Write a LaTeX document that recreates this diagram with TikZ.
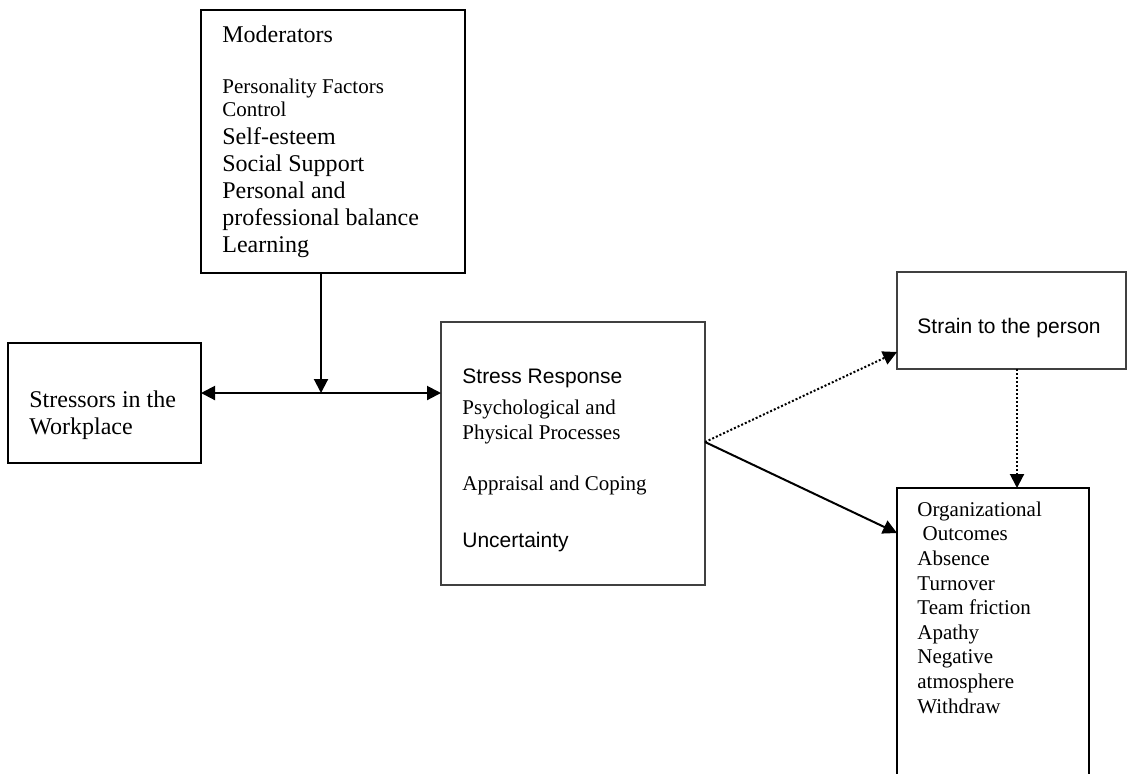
\documentclass[tikz,border=0pt]{standalone}
\usepackage{fontspec}
\setmainfont{Liberation Serif}
\setsansfont{Liberation Sans}
\usetikzlibrary{calc}
\usetikzlibrary{arrows.meta}

\newcommand{\lgserif}{\fontsize{12}{13.5}\selectfont}
\newcommand{\smserif}{\fontsize{10.5}{11.5}\selectfont}
\newcommand{\smsans}{\sffamily\fontsize{10.5}{12}\selectfont}

\tikzset{
  heavybox/.style={draw, line width=1pt, inner sep=0pt, outer sep=0pt},
  lightbox/.style={draw=black!75, line width=0.6pt, inner sep=0pt, outer sep=0pt},
  txt/.style={inner sep=0pt, anchor=base west, align=left},
  conn/.style={line width=1pt},
}

\begin{document}
\begin{tikzpicture}[x=0.5pt, y=-0.5pt, >={Triangle[length=7pt,width=7pt]}]
    \useasboundingbox (0,0) rectangle (1127,773);
    % boxes
    \node[heavybox, minimum width=132pt, minimum height=131.5pt] (modbox) at (333, 141.5) {};
    \node[heavybox, minimum width=96.5pt, minimum height=60pt] (wrkbox) at (104.5, 403) {};
    \node[lightbox, minimum width=132pt, minimum height=131.5pt] (respbox) at (573, 453.5) {};
    \node[lightbox, minimum width=114.5pt, minimum height=48.5pt] (strainbox) at (1011.5, 320.5) {};
    \node[heavybox, minimum width=96pt, minimum height=160pt] (orgbox) at (993, 648) {};
    % texts (base = last line)
    \node[txt, font=\lgserif] (modtitle) at (222, 42) {Moderators};
    \node[txt, font=\smserif] (modsmall) at (222, 116) {Personality Factors\\Control};
    \node[txt, font=\lgserif] (modlist) at (222, 252) {Self-esteem\\Social Support\\Personal and\\professional balance\\Learning};
    \node[txt, font=\lgserif] (wrktxt) at (29, 434) {Stressors in the\\Workplace};
    \node[txt, font=\smsans] (resptitle) at (462, 383) {Stress Response};
    \node[txt, font={\fontsize{10.5}{12.15}\selectfont}] (respproc) at (462, 439) {Psychological and\\Physical Processes};
    \node[txt, font=\smserif] (respcope) at (462, 490) {Appraisal and Coping};
    \node[txt, font=\smsans] (respunc) at (462, 547) {Uncertainty};
    \node[txt, font=\smsans] (straintxt) at (917, 333) {Strain to the person};
    \node[txt, font={\fontsize{10.5}{12.3}\selectfont}] (orgtxt) at (917, 713) {Organizational\\\hspace*{2.6pt}Outcomes\\Absence\\Turnover\\Team friction\\Apathy\\Negative\\atmosphere\\Withdraw};
    % connectors
    \coordinate (jn) at (321, 393);
    \coordinate (fork) at (705, 442);
    \coordinate (sIn) at (897, 352);
    \coordinate (oIn) at (897, 533);
    \coordinate (sOut) at (1017, 369);
    \draw[conn, ->] (modbox.south -| jn) -- (jn);
    \draw[conn, <->] (jn -| wrkbox.east) -- (jn -| respbox.west);
    \draw[conn, densely dotted, ->] (respbox.east |- fork) -- (strainbox.west |- sIn);
    \draw[conn, ->] (respbox.east |- fork) -- (orgbox.west |- oIn);
    \draw[conn, densely dotted, ->] (strainbox.south -| sOut) -- (orgbox.north -| sOut);
\end{tikzpicture}
\end{document}
